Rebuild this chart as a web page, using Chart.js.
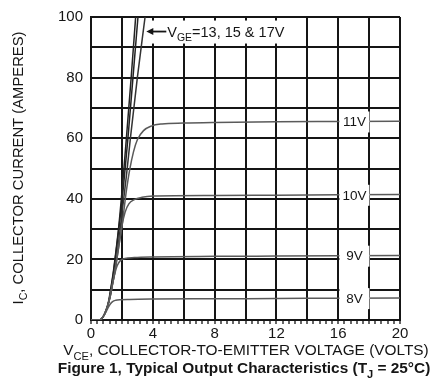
<!DOCTYPE html>
<html>
<head>
<meta charset="utf-8">
<script src="https://cdn.jsdelivr.net/npm/chart.js@4"></script>
<style>
  html, body { margin: 0; padding: 0; background: #fff; }
  canvas { display: block; }
</style>
</head>
<body>
<canvas id="chart" width="434" height="381"></canvas>
<script>
// Output characteristics, collector current vs. collector-emitter voltage
const vce8  = [0, 0.55, 0.75, 0.95, 1.1, 1.25, 1.4, 1.6, 1.9, 2.5, 4, 8, 12, 16, 20];
const ic8   = [0, 0, 0.8, 2.5, 4.0, 5.3, 6.1, 6.5, 6.7, 6.8, 6.9, 7.0, 7.1, 7.2, 7.3];

const vce9  = [0, 0.55, 0.75, 0.95, 1.1, 1.25, 1.4, 1.55, 1.7, 1.9, 2.2, 2.8, 4, 8, 12, 16, 20];
const ic9   = [0, 0, 0.8, 2.8, 5, 8, 12, 15.5, 18, 19.6, 20.3, 20.6, 20.8, 21, 21.1, 21.2, 21.3];

const vce10 = [0, 0.55, 0.75, 0.95, 1.1, 1.25, 1.4, 1.55, 1.7, 1.85, 2.0, 2.2, 2.45, 2.8, 3.3, 4, 8, 12, 16, 20];
const ic10  = [0, 0, 0.8, 2.8, 5, 8, 12, 16, 21, 26, 31, 35.5, 38.3, 39.7, 40.5, 40.9, 41.1, 41.2, 41.3, 41.4];

const vce11 = [0, 0.55, 0.75, 0.95, 1.1, 1.25, 1.4, 1.55, 1.7, 1.85, 2.0, 2.15, 2.3, 2.5, 2.75, 3.0, 3.4, 3.9, 4.6, 6, 8, 12, 16, 20];
const ic11  = [0, 0, 0.8, 2.8, 5, 8, 12, 16, 21, 26, 31, 37, 43, 49.5, 55.5, 59.5, 62.5, 64, 64.7, 65, 65.2, 65.4, 65.5, 65.6];

const vce13 = [0, 0.55, 0.75, 0.95, 1.15, 1.35, 1.5, 1.65, 2.0, 2.3, 2.55, 3.0, 3.5];
const ic13  = [0, 0, 0.8, 2.8, 6, 11, 15.5, 20, 35, 48, 60, 80, 100];

const vce15 = [0, 0.55, 0.75, 0.95, 1.15, 1.3, 1.45, 1.55, 1.8, 2.1, 2.39, 2.7, 3.04];
const ic15  = [0, 0, 0.8, 2.8, 6, 10.5, 15.5, 19.5, 30, 44, 60, 79, 100];

const vce17 = [0, 0.55, 0.75, 0.95, 1.15, 1.3, 1.45, 1.55, 1.8, 2.05, 2.29, 2.6, 2.89];
const ic17  = [0, 0, 0.8, 2.9, 6.5, 11, 16, 20, 31, 45, 60, 80, 100];

const curveLabels = ['8V', '9V', '10V', '11V'];
const xTickLabels = ['0', '4', '8', '12', '16', '20'];
const yTickLabels = ['0', '20', '40', '60', '80', '100'];
const steepLabel = '=13, 15 & 17V';

const FONT = '"Liberation Sans", Arial, sans-serif';
const INK = '#151515';

function points(xs, ys) {
    return xs.map((x, i) => ({ x: x, y: ys[i] }));
}

function valueAt(xs, ys, v) {
    for (let i = 1; i < xs.length; i++) {
        if (v <= xs[i]) {
            const t = (v - xs[i - 1]) / (xs[i] - xs[i - 1]);
            return ys[i - 1] + t * (ys[i] - ys[i - 1]);
        }
    }
    return ys[ys.length - 1];
}

// text with subscripts: parts = [[text, isSub], ...]
function richWidth(ctx, parts, size, bold) {
    let w = 0;
    parts.forEach(([t, sub]) => {
        ctx.font = (bold ? 'bold ' : '') + (sub ? size * 0.72 : size) + 'px ' + FONT;
        w += ctx.measureText(t).width;
    });
    return w;
}

function drawRich(ctx, parts, x, y, size, bold, align) {
    const w = richWidth(ctx, parts, size, bold);
    let cx = align === 'center' ? x - w / 2 : x;
    ctx.textAlign = 'left';
    ctx.textBaseline = 'alphabetic';
    parts.forEach(([t, sub]) => {
        ctx.font = (bold ? 'bold ' : '') + (sub ? size * 0.72 : size) + 'px ' + FONT;
        ctx.fillText(t, cx, y + (sub ? size * 0.3 : 0));
        cx += ctx.measureText(t).width;
    });
}

const curveSeries = [
    [vce8, ic8], [vce9, ic9], [vce10, ic10], [vce11, ic11]
];

const labelsPlugin = {
    id: 'curveText',
    afterDatasetsDraw(chart) {
        const ctx = chart.ctx;
        const xs = chart.scales.x, ys = chart.scales.y;
        ctx.save();

        // curve labels sitting on each plateau, with a white gap behind them
        curveSeries.forEach(([vx, vy], i) => {
            const px = xs.getPixelForValue(17.05);
            const py = ys.getPixelForValue(valueAt(vx, vy, 17));
            ctx.fillStyle = '#fff';
            ctx.fillRect(px - 15, py - 10, 30, 21);
            ctx.fillStyle = INK;
            ctx.font = '13.5px ' + FONT;
            ctx.textAlign = 'center';
            ctx.textBaseline = 'middle';
            ctx.fillText(curveLabels[i], px, py + 1);
        });

        // callout for the steep curves
        const tipX = xs.getPixelForValue(3.58);
        const ay = ys.getPixelForValue(95.2);
        const parts = [['V', false], ['GE', true], [steepLabel, false]];
        const tw = richWidth(ctx, parts, 14.5, false);
        ctx.fillStyle = '#fff';
        ctx.fillRect(tipX + 2, ay - 11, 22 + tw + 8, 23);
        ctx.strokeStyle = INK;
        ctx.lineWidth = 1.8;
        ctx.beginPath();
        ctx.moveTo(tipX + 5, ay);
        ctx.lineTo(tipX + 20, ay);
        ctx.stroke();
        ctx.fillStyle = INK;
        ctx.beginPath();
        ctx.moveTo(tipX, ay);
        ctx.lineTo(tipX + 7, ay - 3.5);
        ctx.lineTo(tipX + 7, ay + 3.5);
        ctx.closePath();
        ctx.fill();
        drawRich(ctx, parts, tipX + 21, ay + 5, 14.5, false, 'left');
        ctx.restore();
    },
    afterDraw(chart) {
        const ctx = chart.ctx;
        ctx.save();
        ctx.fillStyle = INK;
        drawRich(ctx, [['V', false], ['CE', true], [', COLLECTOR-TO-EMITTER VOLTAGE (VOLTS)', false]],
            246, 355, 15.4, false, 'center');
        drawRich(ctx, [['Figure 1, Typical Output Characteristics (T', false], ['J', true], [' = 25°C)', false]],
            244, 373, 15.4, true, 'center');
        ctx.translate(23, 168);
        ctx.rotate(-Math.PI / 2);
        drawRich(ctx, [['I', false], ['C', true], [', COLLECTOR CURRENT (AMPERES)', false]],
            0, 0, 14.8, false, 'center');
        ctx.restore();
    }
};

function curve(label, xs, ys, color) {
    return {
        label: label,
        data: points(xs, ys),
        borderColor: color,
        borderWidth: 1.5,
        pointRadius: 0,
        showLine: true,
        fill: false,
        cubicInterpolationMode: 'monotone'
    };
}

const isMajor = v => Math.round(v * 10) % 20 === 0;

new Chart(document.getElementById('chart'), {
    type: 'scatter',
    data: {
        datasets: [
            curve('8V', vce8, ic8, '#5a5a5a'),
            curve('9V', vce9, ic9, '#5a5a5a'),
            curve('10V', vce10, ic10, '#5a5a5a'),
            curve('11V', vce11, ic11, '#5a5a5a'),
            curve('13V', vce13, ic13, '#333'),
            curve('15V', vce15, ic15, '#222'),
            curve('17V', vce17, ic17, '#222')
        ]
    },
    options: {
        responsive: false,
        animation: false,
        layout: { padding: { left: 0, right: 34, top: 11, bottom: 0 } },
        plugins: { legend: { display: false }, tooltip: { enabled: false } },
        scales: {
            x: {
                type: 'linear',
                min: 0, max: 20,
                afterFit(scale) { scale.height = 61; },
                border: { color: INK, width: 2 },
                grid: {
                    color: c => isMajor(c.tick.value) ? INK : 'rgba(0,0,0,0)',
                    lineWidth: 2,
                    tickColor: INK,
                    tickWidth: 1.3,
                    tickLength: 4
                },
                ticks: {
                    stepSize: 0.4,
                    maxTicksLimit: 60,
                    autoSkip: false,
                    maxRotation: 0,
                    padding: 1,
                    color: INK,
                    font: { family: FONT, size: 15 },
                    callback: v => Math.round(v * 10) % 40 === 0 ? xTickLabels[Math.round(v / 4)] : ''
                }
            },
            y: {
                min: 0, max: 100,
                afterFit(scale) { scale.width = 91; },
                border: { color: INK, width: 2 },
                grid: { color: INK, lineWidth: 2, drawTicks: false },
                ticks: {
                    stepSize: 10,
                    padding: 8,
                    color: INK,
                    font: { family: FONT, size: 15 },
                    callback: v => v % 20 === 0 ? yTickLabels[v / 20] : ''
                }
            }
        }
    },
    plugins: [labelsPlugin]
});
</script>
</body>
</html>
